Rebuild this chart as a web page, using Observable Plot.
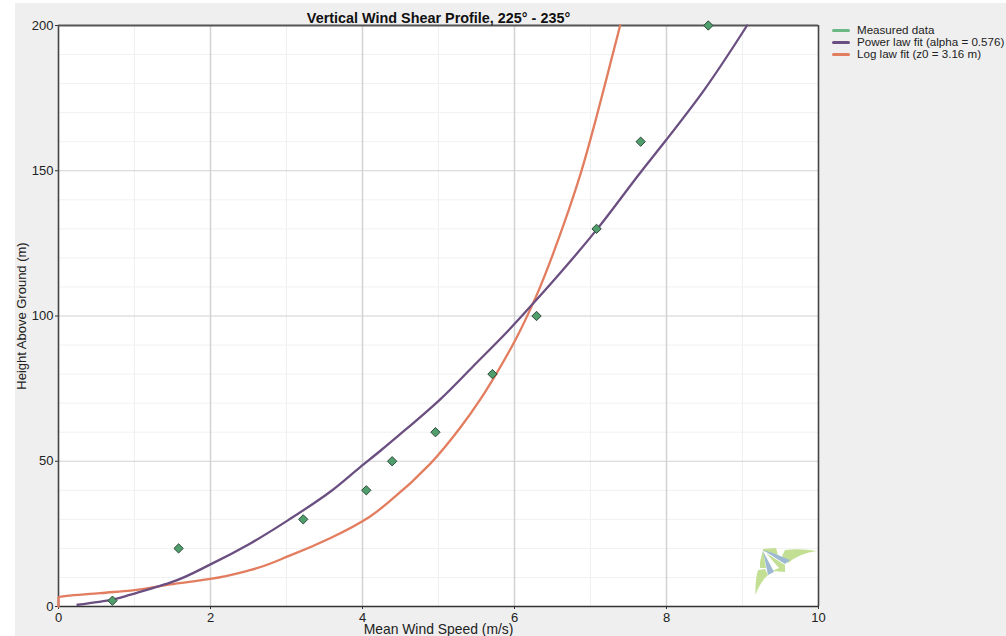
<!DOCTYPE html>
<html>
<head>
<meta charset="utf-8">
<script src="https://cdn.jsdelivr.net/npm/d3@7"></script>
<script src="https://cdn.jsdelivr.net/npm/@observablehq/plot@0.6"></script>
<style>
html,body{margin:0;padding:0;background:#fff;overflow:hidden}
#panel{position:absolute;left:15px;top:3px;width:991px;height:633px;background:#efefef}
#chart{position:absolute;left:0;top:0;width:1006px;height:636px;overflow:hidden}
#chart svg{background:transparent !important}
#legend{position:absolute;left:832px;top:24px;width:174px;overflow:hidden;font:11.6px "Liberation Sans",Arial,sans-serif;color:#222;white-space:nowrap}
#legend .row{height:12px;line-height:12px;display:flex;align-items:center}
#legend .sw{display:inline-block;width:18px;height:3px;border-radius:2px;margin-right:7px;flex:none}
#logo{position:absolute;left:0;top:0}
</style>
</head>
<body>
<div id="panel"></div>
<div id="chart"></div>
<div id="legend"></div>
<script>
const titleText = "Vertical Wind Shear Profile, 225° - 235°";
const xLabel = "Mean Wind Speed (m/s)";
const yLabel = "Height Above Ground (m)";
const xMajor = [0, 2, 4, 6, 8, 10];
const xMinor = [1, 3, 5, 7, 9];
const yMajor = [0, 50, 100, 150, 200];
const yMinor = [10, 20, 30, 40, 60, 70, 80, 90, 110, 120, 130, 140, 160, 170, 180, 190];

const measuredX = [0.71, 1.58, 3.22, 4.05, 4.39, 4.96, 5.71, 6.29, 7.08, 7.66, 8.55];
const measuredY = [2, 20, 30, 40, 50, 60, 80, 100, 130, 160, 200];

const powerX = [0.25, 0.71, 0.95, 1.21, 1.47, 2, 2.53, 3.05, 3.58, 3.97, 4.24, 4.5, 5.03, 5.46, 5.92, 6.28, 7.09, 7.66, 7.99, 8.49, 9.06];
const powerY = [0.6, 2.4, 4.1, 6.1, 8.2, 14.5, 21.8, 30.2, 39.6, 48, 53.7, 59.4, 71.5, 82.8, 95, 105.3, 130, 149.5, 160.4, 177.6, 200];

const logX = [0, 0, 0.55, 0.95, 1.47, 2, 2.53, 3.05, 3.58, 4.1, 4.37, 4.89, 5.29, 5.55, 5.73, 6.03, 6.28, 6.65, 6.87, 7.09, 7.26, 7.39];
const logY = [0, 3.16, 4.6, 5.5, 7.6, 9.5, 12.6, 17.6, 23.6, 31, 36.5, 49.1, 61.7, 71.3, 78.8, 92.7, 106.5, 131.7, 149, 169.6, 186.8, 200];

const seriesNames = ["Measured data", "Power law fit (alpha = 0.576)", "Log law fit (z0 = 3.16 m)"];
const seriesColors = ["#6cb884", "#6a4f80", "#e27d5f"];

const zip = (xs, ys) => xs.map((x, i) => ({x, y: ys[i]}));
const font = '"Liberation Sans", Arial, sans-serif';

const plot = Plot.plot({
  width: 1006,
  height: 636,
  marginLeft: 58,
  marginRight: 188,
  marginTop: 25,
  marginBottom: 30,
  style: {fontFamily: font, fontSize: "13px", background: "transparent", color: "#222"},
  x: {domain: [0, 10]},
  y: {domain: [0, 200]},
  marks: [
    Plot.frame({fill: "#fff", stroke: null}),
    Plot.ruleX(xMinor, {stroke: "#efefef", strokeWidth: 1}),
    Plot.ruleY(yMinor, {stroke: "#f1f1f1", strokeWidth: 1}),
    Plot.ruleX(xMajor.slice(1, -1), {stroke: "#d2d2d2", strokeWidth: 1.5}),
    Plot.ruleY(yMajor.slice(1, -1), {stroke: "#d2d2d2", strokeWidth: 1.2}),
    Plot.ruleX([0, 10], {stroke: "#444", strokeWidth: 1.6}),
    Plot.ruleY([0], {stroke: "#333", strokeWidth: 1.4}),
    Plot.ruleY([200], {stroke: "#555", strokeWidth: 2.2}),
    Plot.axisX({ticks: xMajor, tickSize: 3, tickPadding: 3, label: null, stroke: "#333"}),
    Plot.axisX({ticks: [], label: xLabel, labelAnchor: "center", labelArrow: "none", labelOffset: 27, fontSize: 13.9}),
    Plot.axisY({ticks: yMajor, tickSize: 3, tickPadding: 2, label: yLabel, labelAnchor: "center", labelArrow: "none", labelOffset: 42, stroke: "#333"}),
    Plot.line(zip(logX, logY), {x: "x", y: "y", stroke: seriesColors[2], strokeWidth: 2.3, curve: "monotone-y"}),
    Plot.line(zip(powerX, powerY), {x: "x", y: "y", stroke: seriesColors[1], strokeWidth: 2.3, curve: "monotone-y"}),
    Plot.dot(zip(measuredX, measuredY), {x: "x", y: "y", symbol: "diamond2", r: 4.2, fill: "#4f9e6b", stroke: "#2f4a3a", strokeWidth: 1}),
    Plot.text([titleText], {frameAnchor: "top", dy: -13, fontWeight: "bold", fontSize: 14.4, fill: "#111", textAnchor: "middle"})
  ]
});
document.getElementById("chart").append(plot);

const legend = document.getElementById("legend");
seriesNames.forEach((name, i) => {
  const row = document.createElement("div");
  row.className = "row";
  const sw = document.createElement("span");
  sw.className = "sw";
  sw.style.background = seriesColors[i];
  const label = document.createElement("span");
  label.textContent = name;
  row.append(sw, label);
  legend.append(row);
});

// Decorative corner logo (a watermark, not data)
const logoNS = "http://www.w3.org/2000/svg";
const logo = document.createElementNS(logoNS, "svg");
logo.setAttribute("id", "logo");
logo.setAttribute("width", 1006);
logo.setAttribute("height", 636);
[
  ["#c3df93", "M755.5 595 Q755 580 758 570 L765 569 L768 575 Q760 582 755.5 595Z"],
  ["#c3df93", "M763 549 L776 548 L778 555 L772 553 L763 551Z"],
  ["#c3df93", "M760 562 L763 550 L766 568 L760 568Z"],
  ["#c3df93", "M785 550 Q800 548 817 551 Q800 553 788 563 L782 556Z"],
  ["#c3df93", "M766 553 L785 565 L785 572 L772 571 L779 568 Z"],
  ["#9db9d2", "M763 550 L773 553 L790 560 L785 564Z"],
  ["#9db9d2", "M763 551 L774 572 L768 575Z"]
].forEach(([fill, d]) => {
  const p = document.createElementNS(logoNS, "path");
  p.setAttribute("fill", fill);
  p.setAttribute("d", d);
  logo.append(p);
});
document.getElementById("chart").append(logo);
</script>
</body>
</html>
